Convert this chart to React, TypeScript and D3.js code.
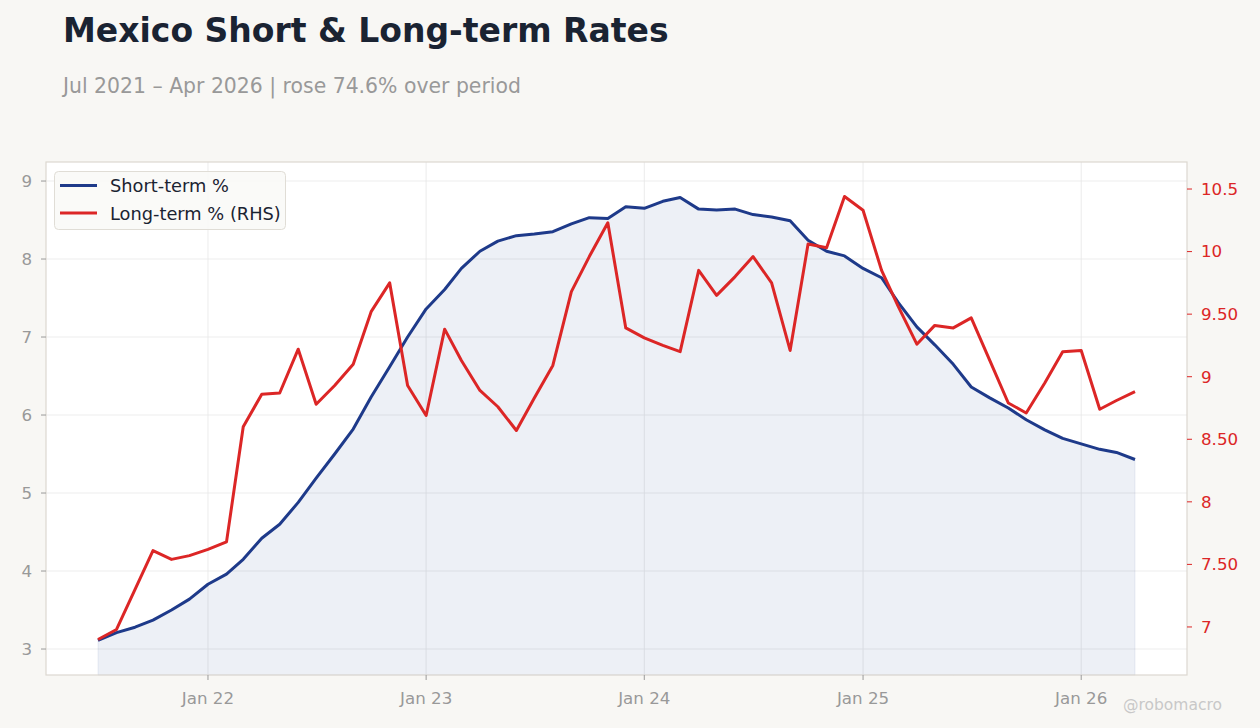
import React from "react";
import * as d3 from "d3";

const months: string[] = [
  "2021-07", "2021-08", "2021-09", "2021-10", "2021-11", "2021-12",
  "2022-01", "2022-02", "2022-03", "2022-04", "2022-05", "2022-06",
  "2022-07", "2022-08", "2022-09", "2022-10", "2022-11", "2022-12",
  "2023-01", "2023-02", "2023-03", "2023-04", "2023-05", "2023-06",
  "2023-07", "2023-08", "2023-09", "2023-10", "2023-11", "2023-12",
  "2024-01", "2024-02", "2024-03", "2024-04", "2024-05", "2024-06",
  "2024-07", "2024-08", "2024-09", "2024-10", "2024-11", "2024-12",
  "2025-01", "2025-02", "2025-03", "2025-04", "2025-05", "2025-06",
  "2025-07", "2025-08", "2025-09", "2025-10", "2025-11", "2025-12",
  "2026-01", "2026-02", "2026-03", "2026-04",
];

const shortTerm: number[] = [
  3.11, 3.21, 3.28, 3.37, 3.5, 3.64,
  3.83, 3.96, 4.15, 4.42, 4.6, 4.88, 5.19, 5.5, 5.82, 6.23, 6.62, 7.0,
  7.36, 7.61, 7.88, 8.1, 8.23, 8.3, 8.32, 8.35, 8.45, 8.53, 8.52, 8.67,
  8.65, 8.74, 8.79, 8.64, 8.63, 8.64, 8.57, 8.54, 8.49, 8.24, 8.1, 8.04,
  7.88, 7.76, 7.44, 7.13, 6.9, 6.65, 6.36, 6.22, 6.09, 5.94, 5.81, 5.7,
  5.63, 5.56, 5.52, 5.43,
];

const longTerm: number[] = [
  6.9, 6.98, 7.3, 7.61, 7.54, 7.57,
  7.62, 7.68, 8.6, 8.86, 8.87, 9.22, 8.78, 8.93, 9.1, 9.52, 9.75, 8.93,
  8.69, 9.38, 9.13, 8.89, 8.76, 8.57, 8.83, 9.09, 9.68, 9.96, 10.23, 9.39,
  9.31, 9.25, 9.2, 9.85, 9.65, 9.8, 9.96, 9.75, 9.21, 10.06, 10.03, 10.44,
  10.33, 9.85, 9.56, 9.26, 9.41, 9.39, 9.47, 9.13, 8.79, 8.71, 8.95, 9.2,
  9.21, 8.74, 8.81, 8.88,
];

const leftTicks: number[] = [3, 4, 5, 6, 7, 8, 9];
const rightTicks: number[] = [7, 7.5, 8, 8.5, 9, 9.5, 10, 10.5];
const rightTickLabels: string[] = ["7", "7.50", "8", "8.50", "9", "9.50", "10", "10.5"];
const xTickDates: string[] = ["2022-01", "2023-01", "2024-01", "2025-01", "2026-01"];
const xTickLabels: string[] = ["Jan 22", "Jan 23", "Jan 24", "Jan 25", "Jan 26"];

const W = 1260;
const H = 728;
const plot = { left: 46, top: 162, right: 1187, bottom: 675 };
const BLUE = "#1e3a8a";
const RED = "#dc2626";
const FONT = "DejaVu Sans, sans-serif";

const parse = d3.timeParse("%Y-%m");

export default function App() {
  const dates = months.map((m) => parse(m) as Date);
  const x = d3
    .scaleTime()
    .domain([new Date(2021, 3, 5), new Date(2026, 5, 27)])
    .range([plot.left, plot.right]);
  const yL = d3.scaleLinear().domain([2.667, 9.244]).range([plot.bottom, plot.top]);
  const yR = d3.scaleLinear().domain([6.616, 10.716]).range([plot.bottom, plot.top]);

  const shortPts = dates.map((d, i) => [d, shortTerm[i]] as [Date, number]);
  const longPts = dates.map((d, i) => [d, longTerm[i]] as [Date, number]);

  const lineS = d3
    .line<[Date, number]>()
    .x((d) => x(d[0]))
    .y((d) => yL(d[1]));
  const lineL = d3
    .line<[Date, number]>()
    .x((d) => x(d[0]))
    .y((d) => yR(d[1]));
  const area = d3
    .area<[Date, number]>()
    .x((d) => x(d[0]))
    .y0(plot.bottom)
    .y1((d) => yL(d[1]));

  const xTicks = xTickDates.map((s) => parse(s) as Date);

  return (
    <svg
      width={W}
      height={H}
      style={{ position: "fixed", left: 0, top: 0, display: "block" }}
      fontFamily={FONT}
    >
      <rect x={0} y={0} width={W} height={H} fill="#f8f7f4" />
      <text x={63} y={42} fontSize={33} fontWeight="bold" fill="#1a2332">
        Mexico Short &amp; Long-term Rates
      </text>
      <text x={63} y={93} fontSize={20.4} fill="#999999">
        Jul 2021 – Apr 2026 | rose 74.6% over period
      </text>

      <rect
        x={plot.left}
        y={plot.top}
        width={plot.right - plot.left}
        height={plot.bottom - plot.top}
        fill="#ffffff"
      />
      {leftTicks.map((t) => (
        <line
          key={"gy" + t}
          x1={plot.left}
          x2={plot.right}
          y1={yL(t)}
          y2={yL(t)}
          stroke="#e8e8e8"
          strokeWidth={0.8}
        />
      ))}
      {xTicks.map((t, i) => (
        <line
          key={"gx" + i}
          x1={x(t)}
          x2={x(t)}
          y1={plot.top}
          y2={plot.bottom}
          stroke="#e6e6e6"
          strokeWidth={0.8}
        />
      ))}

      <path
        d={area(shortPts) || ""}
        fill={BLUE}
        fillOpacity={0.08}
        stroke={BLUE}
        strokeOpacity={0.08}
        strokeWidth={1}
      />
      <path d={lineS(shortPts) || ""} fill="none" stroke={BLUE} strokeWidth={3} strokeLinejoin="round" />
      <path d={lineL(longPts) || ""} fill="none" stroke={RED} strokeWidth={3} strokeLinejoin="round" />

      <rect
        x={plot.left}
        y={plot.top}
        width={plot.right - plot.left}
        height={plot.bottom - plot.top}
        fill="none"
        stroke="#ddd8d0"
        strokeWidth={1.2}
      />

      {leftTicks.map((t) => (
        <g key={"ly" + t}>
          <line x1={plot.left - 5} x2={plot.left} y1={yL(t)} y2={yL(t)} stroke="#999999" strokeWidth={1} />
          <text
            x={plot.left - 14}
            y={yL(t)}
            dy="0.35em"
            textAnchor="end"
            fontSize={16.7}
            fill="#999999"
          >
            {t}
          </text>
        </g>
      ))}
      {rightTicks.map((t, i) => (
        <g key={"ry" + t}>
          <line x1={plot.right} x2={plot.right + 5} y1={yR(t)} y2={yR(t)} stroke={RED} strokeWidth={1} />
          <text x={plot.right + 14} y={yR(t)} dy="0.35em" textAnchor="start" fontSize={16.7} fill={RED}>
            {rightTickLabels[i]}
          </text>
        </g>
      ))}
      {xTicks.map((t, i) => (
        <g key={"xt" + i}>
          <line x1={x(t)} x2={x(t)} y1={plot.bottom} y2={plot.bottom + 5} stroke="#999999" strokeWidth={1} />
          <text x={x(t)} y={plot.bottom + 29} textAnchor="middle" fontSize={16.7} fill="#999999">
            {xTickLabels[i]}
          </text>
        </g>
      ))}

      <rect x={54.5} y={171.5} width={231} height={58} rx={4} fill="#faf9f7" fillOpacity={0.9} stroke="#e0ddd6" />
      <line x1={60} x2={97} y1={185.5} y2={185.5} stroke={BLUE} strokeWidth={3} />
      <line x1={60} x2={97} y1={213} y2={213} stroke={RED} strokeWidth={3} />
      <text x={110} y={186} dy="0.35em" fontSize={17.8} fill="#1a2332">
        Short-term %
      </text>
      <text x={110} y={213.5} dy="0.35em" fontSize={17.8} fill="#1a2332">
        Long-term % (RHS)
      </text>

      <text x={1222} y={710} textAnchor="end" fontSize={15.5} fill="#c8c8c8">
        @robomacro
      </text>
    </svg>
  );
}
